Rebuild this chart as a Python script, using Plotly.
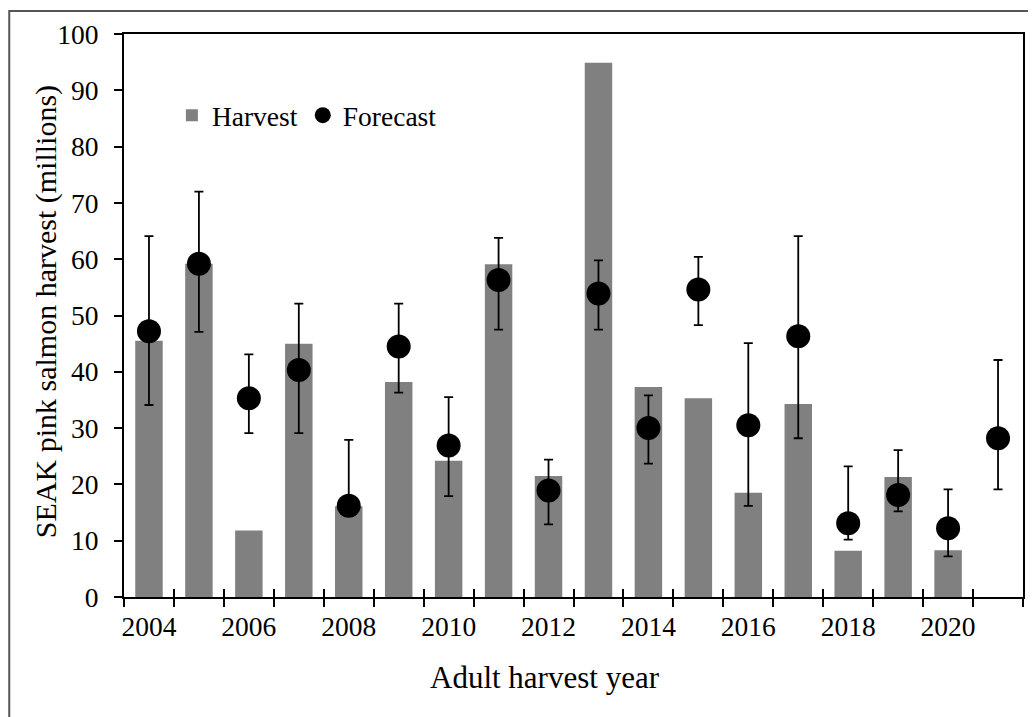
import plotly.graph_objects as go

years = list(range(2004, 2022))
harvest = [45.5, 59.2, 11.8, 45.0, 16.1, 38.2, 24.2, 59.1, 21.5, 94.9, 37.3, 35.3, 18.5, 34.3, 8.2, 21.3, 8.3, None]
forecast = [47.2, 59.2, 35.3, 40.3, 16.2, 44.5, 26.9, 56.3, 18.9, 53.9, 30.0, 54.6, 30.5, 46.3, 13.1, 18.1, 12.2, 28.2]
fc_high = [64.1, 72.0, 43.1, 52.1, 27.9, 52.1, 35.5, 63.8, 24.4, 59.8, 35.8, 60.4, 45.1, 64.1, 23.2, 26.1, 19.1, 42.1]
fc_low = [34.1, 47.1, 29.1, 29.1, 15.5, 36.3, 17.9, 47.5, 12.9, 47.5, 23.7, 48.3, 16.2, 28.2, 10.2, 15.2, 7.2, 19.1]
label_years = [2004, 2006, 2008, 2010, 2012, 2014, 2016, 2018, 2020]

err_plus = [h - f for h, f in zip(fc_high, forecast)]
err_minus = [f - l for f, l in zip(forecast, fc_low)]
boundaries = [y - 0.5 for y in years] + [years[-1] + 0.5]

FONT = "Liberation Serif, Times New Roman, serif"
FS = 27.5
TFS = 31

fig = go.Figure()
fig.add_trace(go.Bar(
    x=years, y=harvest, name="Harvest", width=0.55,
    marker=dict(color="#808080", line=dict(width=0)),
))
fig.add_trace(go.Scatter(
    x=years, y=forecast, name="Forecast", mode="markers",
    marker=dict(color="black", size=24, symbol="circle"),
    error_y=dict(type="data", symmetric=False, array=err_plus, arrayminus=err_minus,
                 color="black", thickness=1.8, width=4.5),
))

# page body has an 8px margin; figure sized to fit the window
OFF = 8
W, H = 1036 - OFF, 717 - OFF
L, T = 124 - OFF, 32 - OFF
pw, ph = 901, 565
R, B = W - L - pw, H - T - ph

def px(xp):
    return (xp - 124) / pw

def py(yp):
    return (597 - yp) / ph

rng = [boundaries[0], boundaries[-1]]
fig.update_layout(
    width=W, height=H,
    margin=dict(l=L, r=R, t=T, b=B, pad=0),
    paper_bgcolor="white", plot_bgcolor="white",
    font=dict(family=FONT, size=FS, color="black"),
    showlegend=True,
    legend=dict(orientation="h", x=px(172), y=py(89), xanchor="left", yanchor="top",
                bgcolor="rgba(0,0,0,0)", font=dict(size=FS, family=FONT),
                itemwidth=30, tracegroupgap=0),
    xaxis=dict(range=rng, tickmode="array", tickvals=boundaries, showticklabels=False,
               ticks="outside", ticklen=8, tickwidth=1.5, tickcolor="black",
               showline=True, linecolor="black", linewidth=2, mirror=True,
               showgrid=False, zeroline=False),
    xaxis2=dict(overlaying="x", anchor="y", side="bottom", range=rng, tickmode="array",
                tickvals=boundaries, showticklabels=False, ticks="inside", ticklen=8,
                tickwidth=1.5, tickcolor="black", showline=False, showgrid=False, zeroline=False),
    xaxis3=dict(overlaying="x", anchor="y", side="bottom", range=rng, tickmode="array",
                tickvals=label_years, ticktext=[str(v) for v in label_years],
                ticks="", ticklabelstandoff=10, showline=False, showgrid=False, zeroline=False,
                tickfont=dict(size=FS, family=FONT)),
    yaxis=dict(range=[0, 100], tickmode="linear", tick0=0, dtick=10,
               ticks="outside", ticklen=8, tickwidth=1.5, tickcolor="black",
               ticklabelstandoff=10,
               showline=True, linecolor="black", linewidth=2, mirror=True,
               showgrid=False, zeroline=False, tickfont=dict(size=FS, family=FONT)),
)

fig.add_trace(go.Scatter(x=[None], y=[None], xaxis="x2", showlegend=False, hoverinfo="skip"))
fig.add_trace(go.Scatter(x=[None], y=[None], xaxis="x3", showlegend=False, hoverinfo="skip"))

fig.add_annotation(text="Adult harvest year", xref="paper", yref="paper",
                   x=px(546), y=py(678), xanchor="center", yanchor="middle",
                   showarrow=False, font=dict(size=TFS, family=FONT))
fig.add_annotation(text="SEAK pink salmon harvest (millions)", xref="paper", yref="paper",
                   x=px(46), y=py(311), xanchor="center", yanchor="middle", textangle=-90,
                   showarrow=False, font=dict(size=30, family=FONT))

fig.add_shape(type="rect", xref="paper", yref="paper",
              x0=px(9), x1=px(1060), y0=py(740), y1=py(9),
              line=dict(color="#555555", width=2), fillcolor="rgba(0,0,0,0)", layer="below")

fig.write_html("out.html")
